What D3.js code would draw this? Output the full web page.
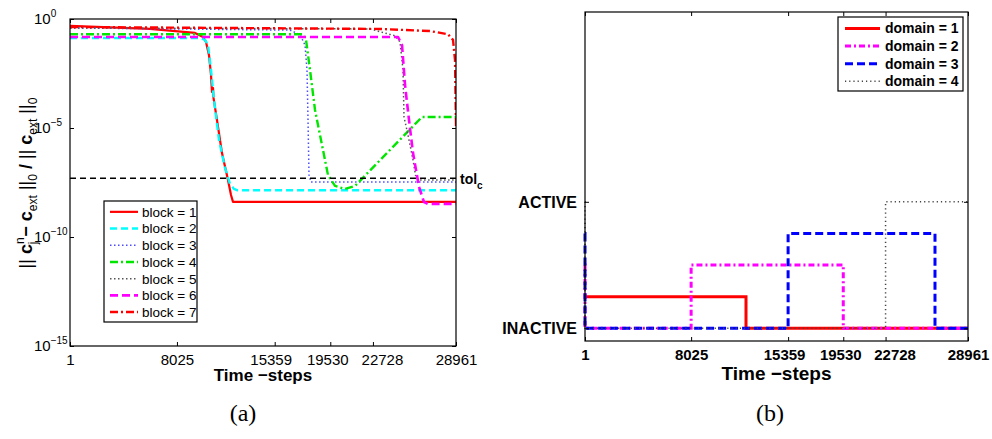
<!DOCTYPE html>
<html>
<head>
<meta charset="utf-8">
<script src="https://cdn.jsdelivr.net/npm/d3@7"></script>
<style>
  body { margin: 0; background: #fff; }
  svg { display: block; }
  text { font-family: "Liberation Sans", Arial, sans-serif; fill: #000; }
</style>
</head>
<body>
<div id="chart"></div>
<script>
// ---- data ----
const xTicks = [1, 8025, 15359, 19530, 22728, 28961];
const yTicksA = [1e0, 1e-5, 1e-10, 1e-15];
const tolC = 5e-8;

// panel (a): relative error per block
const block1Steps = [1, 6003, 9380, 9980, 10205, 10430, 10580, 10655, 10730, 10768, 11030, 11405, 11855, 12080, 12230, 28961];
const block1Vals = [4.8e-1, 3.5e-1, 2.3e-1, 1.5e-1, 8.9e-2, 2.2e-2, 2.7e-3, 4.5e-4, 6.8e-4, 2.4e-4, 2.3e-5, 7.1e-7, 4.1e-8, 8.5e-9, 4.1e-9, 4.1e-9];
const block2Steps = [1, 9755, 10130, 10355, 10580, 10805, 11180, 11630, 12005, 12305, 12530, 28961];
const block2Vals = [1.35e-1, 1.35e-1, 1.1e-1, 6.4e-2, 4.6e-3, 1.9e-4, 2.8e-6, 1.5e-7, 2.7e-8, 1.6e-8, 1.4e-8, 1.4e-8];
const block3Steps = [1, 16508, 17258, 17633, 17783, 17858, 17933, 18083, 28961];
const block3Vals = [3.9e-1, 3.1e-1, 1.9e-1, 6.4e-2, 4.6e-3, 2.3e-5, 6.9e-8, 3.3e-8, 3.3e-8];
const block4Steps = [1, 17483, 17708, 18008, 18383, 18983, 19358, 19884, 20634, 21384, 26412, 28961];
const block4Vals = [2.0e-1, 2.0e-1, 1.1e-1, 4.6e-3, 6.7e-5, 9.8e-7, 6.9e-8, 2.2e-8, 1.6e-8, 2.2e-8, 3.2e-5, 3.2e-5];
const block5Steps = [1, 22510, 24385, 24760, 24985, 25060, 25360, 25736, 25961, 26186, 28961];
const block5Vals = [3.9e-1, 3.5e-1, 1.7e-1, 8.9e-2, 4.6e-3, 3.2e-5, 4.8e-6, 3.4e-7, 5.1e-8, 4.1e-8, 4.1e-8];
const block6Steps = [1, 24611, 24911, 25136, 25436, 25736, 26186, 26561, 26862, 28961];
const block6Vals = [1.5e-1, 1.5e-1, 6.4e-2, 9.4e-4, 2.3e-5, 7.1e-7, 2.0e-8, 4.0e-9, 3.3e-9, 3.3e-9];
const block7Steps = [1, 23260, 27012, 28363, 28738, 28888, 28961];
const block7Vals = [4.3e-1, 3.5e-1, 2.8e-1, 2.0e-1, 1.1e-1, 1.3e-2, 1.2e-5];

// panel (b): domain activity (step)
const domain1Steps = [1, 12175, 28961];
const domain1Vals = [0.25, 0, 0];
const domain2Steps = [1, 2, 8025, 19530, 28961];
const domain2Vals = [0.5, 0, 0.5, 0, 0];
const domain3Steps = [1, 2, 15359, 26465, 28961];
const domain3Vals = [0.75, 0, 0.75, 0, 0];
const domain4Steps = [1, 2, 22728, 28961];
const domain4Vals = [1, 0, 1, 1];
const yTicksB = [0, 1];
const yTickLabelsB = ['INACTIVE', 'ACTIVE'];

const zip = (s, v) => s.map((t, i) => [t, v[i]]);

const blocks = [
    { name: 'block = 1', pts: zip(block1Steps, block1Vals), color: '#ff0000', dash: null, w: 2.2 },
    { name: 'block = 2', pts: zip(block2Steps, block2Vals), color: '#00ffff', dash: '7,4', w: 2.4 },
    { name: 'block = 3', pts: zip(block3Steps, block3Vals), color: '#4d4dff', dash: '1.5,2.5', w: 1.5 },
    { name: 'block = 4', pts: zip(block4Steps, block4Vals), color: '#00e600', dash: '8,3,2,3', w: 2.4 },
    { name: 'block = 5', pts: zip(block5Steps, block5Vals), color: '#555555', dash: '1.5,2.5', w: 1.5 },
    { name: 'block = 6', pts: zip(block6Steps, block6Vals), color: '#ff00ff', dash: '8,4', w: 2.6 },
    { name: 'block = 7', pts: zip(block7Steps, block7Vals), color: '#ff0000', dash: '8,3,2,3', w: 2.4 }
];

const domains = [
    { name: 'domain = 1', pts: zip(domain1Steps, domain1Vals), color: '#ff0000', dash: null, w: 3 },
    { name: 'domain = 2', pts: zip(domain2Steps, domain2Vals), color: '#ff00ff', dash: '6,3,2,3', w: 3 },
    { name: 'domain = 3', pts: zip(domain3Steps, domain3Vals), color: '#0000ff', dash: '8,4', w: 3 },
    { name: 'domain = 4', pts: zip(domain4Steps, domain4Vals), color: '#444444', dash: '1.2,3', w: 1.5 }
];

// crowded tick labels are nudged sideways, as in the original figure
const tickNudge = { 15359: -4, 19530: -3, 22728: 9 };

const svg = d3.select('#chart')
    .append('svg')
    .attr('width', 992)
    .attr('height', 439);

// MATLAB-like box with inward ticks
function drawFrame(g, x, y, box, yTicks, bold) {
    const tick = 4;
    g.append('g')
        .attr('transform', `translate(0,${box.bottom})`)
        .call(d3.axisBottom(x).tickValues(xTicks).tickFormat(d3.format('d'))
            .tickSizeInner(-tick).tickSizeOuter(0).tickPadding(8))
        .call(s => s.select('.domain').remove())
        .selectAll('text')
        .attr('dx', d => tickNudge[d] || 0)
        .style('font-size', '15px')
        .style('font-weight', bold ? 'bold' : 'normal')
        .attr('fill', '#000');
    g.append('g')
        .attr('transform', `translate(0,${box.top})`)
        .call(d3.axisTop(x).tickValues(xTicks).tickSizeInner(-tick).tickSizeOuter(0).tickFormat(''))
        .call(s => s.select('.domain').remove());
    g.append('g')
        .attr('transform', `translate(${box.left},0)`)
        .call(d3.axisLeft(y).tickValues(yTicks).tickSizeInner(-tick).tickSizeOuter(0).tickFormat(''))
        .call(s => s.select('.domain').remove());
    g.append('g')
        .attr('transform', `translate(${box.right},0)`)
        .call(d3.axisRight(y).tickValues(yTicks).tickSizeInner(-tick).tickSizeOuter(0).tickFormat(''))
        .call(s => s.select('.domain').remove());
    g.selectAll('.tick line').attr('stroke', '#000');
    g.append('rect')
        .attr('x', box.left)
        .attr('y', box.top)
        .attr('width', box.right - box.left)
        .attr('height', box.bottom - box.top)
        .attr('fill', 'none')
        .attr('stroke', '#000')
        .attr('stroke-width', 1.2);
}

function drawLegend(g, items, lx, ly, lw, lh, rowH, lineX0, lineX1, textX, fontSize, bold) {
    g.append('rect')
        .attr('x', lx).attr('y', ly)
        .attr('width', lw).attr('height', lh)
        .attr('fill', '#fff')
        .attr('stroke', '#000')
        .attr('stroke-width', 1.2);
    items.forEach((d, i) => {
        const yy = ly + rowH * (i + 0.65);
        g.append('line')
            .attr('x1', lineX0).attr('x2', lineX1)
            .attr('y1', yy).attr('y2', yy)
            .attr('stroke', d.color)
            .attr('stroke-width', d.w)
            .attr('stroke-dasharray', d.dash);
        g.append('text')
            .attr('x', textX)
            .attr('y', yy + fontSize * 0.36)
            .style('font-size', fontSize + 'px')
            .style('font-weight', bold ? 'bold' : 'normal')
            .text(d.name);
    });
}

// ---------------- panel (a) ----------------
const boxA = { left: 70, right: 456, top: 19, bottom: 346 };
const xA = d3.scaleLinear().domain([1, 28961]).range([boxA.left, boxA.right]);
const yA = d3.scaleLog().domain([1e-15, 1]).range([boxA.bottom, boxA.top]);
const gA = svg.append('g');

gA.append('clipPath').attr('id', 'clipA')
    .append('rect')
    .attr('x', boxA.left).attr('y', boxA.top)
    .attr('width', boxA.right - boxA.left).attr('height', boxA.bottom - boxA.top);

const lineA = d3.line().x(d => xA(d[0])).y(d => yA(d[1]));

gA.append('g').attr('clip-path', 'url(#clipA)')
    .selectAll('path')
    .data(blocks)
    .enter()
    .append('path')
    .attr('d', d => lineA(d.pts))
    .attr('fill', 'none')
    .attr('stroke', d => d.color)
    .attr('stroke-width', d => d.w)
    .attr('stroke-dasharray', d => d.dash)
    .attr('stroke-linejoin', 'round');

// tolerance line
gA.append('line')
    .attr('x1', xA(1)).attr('x2', xA(28961))
    .attr('y1', yA(tolC)).attr('y2', yA(tolC))
    .attr('stroke', '#000')
    .attr('stroke-width', 1.5)
    .attr('stroke-dasharray', '6,4');

const tolLabel = gA.append('text')
    .attr('x', boxA.right + 4)
    .attr('y', yA(tolC) + 6)
    .style('font-size', '14px')
    .style('font-weight', 'bold');
tolLabel.append('tspan').text('tol');
tolLabel.append('tspan').attr('dy', 5).style('font-size', '10px').text('c');

drawFrame(gA, xA, yA, boxA, yTicksA, false);

// y tick labels 10^k
const expLabel = { 1: '0', 1e-5: '\u22125', 1e-10: '\u221210', 1e-15: '\u221215' };
yTicksA.forEach(v => {
    const t = gA.append('text')
        .attr('x', 34)
        .attr('y', yA(v) + 5)
        .style('font-size', '15px');
    t.append('tspan').text('10');
    t.append('tspan').attr('dy', -7).style('font-size', '10px').text(expLabel[v]);
});

drawLegend(gA, blocks, 104, 201, 93, 121, 16.7, 110, 138, 142, 13.5, false);

// x label
gA.append('text')
    .attr('x', (boxA.left + boxA.right) / 2)
    .attr('y', 381)
    .attr('text-anchor', 'middle')
    .style('font-size', '17px')
    .style('font-weight', 'bold')
    .text('Time \u2212steps');

// y label
const yl = gA.append('text')
    .attr('transform', 'translate(32,183) rotate(-90)')
    .attr('text-anchor', 'middle')
    .style('font-size', '18px');
yl.append('tspan').text('|| ');
yl.append('tspan').style('font-weight', 'bold').text('c');
yl.append('tspan').attr('dy', -8).style('font-size', '12px').text('n');
yl.append('tspan').attr('dx', -7).attr('dy', 13).style('font-size', '12px').text('j');
yl.append('tspan').attr('dy', -5).style('font-weight', 'bold').text(' \u2212 c');
yl.append('tspan').attr('dy', 5).style('font-size', '12px').text('ext');
yl.append('tspan').attr('dy', -5).text(' ||');
yl.append('tspan').attr('dy', 5).style('font-size', '12px').text('0');
yl.append('tspan').attr('dy', -5).style('font-weight', 'bold').text(' / ');
yl.append('tspan').text('|| ');
yl.append('tspan').style('font-weight', 'bold').text('c');
yl.append('tspan').attr('dy', 5).style('font-size', '12px').text('ext');
yl.append('tspan').attr('dy', -5).text(' ||');
yl.append('tspan').attr('dy', 5).style('font-size', '12px').text('0');

// ---------------- panel (b) ----------------
const boxB = { left: 585, right: 968, top: 12, bottom: 341 };
const xB = d3.scaleLinear().domain([1, 28961]).range([boxB.left, boxB.right]);
const yB = d3.scaleLinear().domain([-0.1, 2.5]).range([boxB.bottom, boxB.top]);
const gB = svg.append('g');

const lineB = d3.line().curve(d3.curveStepAfter).x(d => xB(d[0])).y(d => yB(d[1]));

gB.append('g')
    .selectAll('path')
    .data(domains)
    .enter()
    .append('path')
    .attr('d', d => lineB(d.pts))
    .attr('fill', 'none')
    .attr('stroke', d => d.color)
    .attr('stroke-width', d => d.w)
    .attr('stroke-dasharray', d => d.dash);

drawFrame(gB, xB, yB, boxB, yTicksB, true);

yTicksB.forEach((v, i) => {
    gB.append('text')
        .attr('x', boxB.left - 8)
        .attr('y', yB(v) + 6)
        .attr('text-anchor', 'end')
        .style('font-size', '16px')
        .style('font-weight', 'bold')
        .text(yTickLabelsB[i]);
});

drawLegend(gB, domains, 838, 17, 125, 74, 17.6, 845, 880, 885, 14, true);

gB.append('text')
    .attr('x', (boxB.left + boxB.right) / 2)
    .attr('y', 380)
    .attr('text-anchor', 'middle')
    .style('font-size', '19px')
    .style('font-weight', 'bold')
    .text('Time \u2212steps');

// panel captions
svg.append('text')
    .attr('x', 243).attr('y', 421)
    .attr('text-anchor', 'middle')
    .style('font-family', '"Liberation Serif", "Times New Roman", serif')
    .style('font-size', '24px')
    .text('(a)');
svg.append('text')
    .attr('x', 770).attr('y', 421)
    .attr('text-anchor', 'middle')
    .style('font-family', '"Liberation Serif", "Times New Roman", serif')
    .style('font-size', '24px')
    .text('(b)');
</script>
</body>
</html>
